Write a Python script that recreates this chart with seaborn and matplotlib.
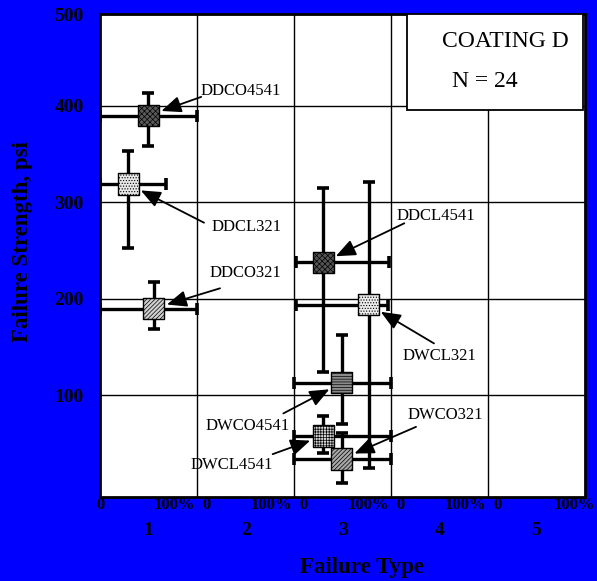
import matplotlib
matplotlib.use("Agg")
import matplotlib.pyplot as plt
import matplotlib.transforms as mtransforms
from matplotlib.patches import Rectangle
import seaborn as sns
import numpy as np

# ---------------- data ----------------
names = ["DDCO4541", "DDCL321", "DDCO321", "DDCL4541",
         "DWCL321", "DWCO4541", "DWCL4541", "DWCO321"]
fail_x = [0.495, 0.29, 0.55, 2.30, 2.77, 2.49, 2.30, 2.49]
strength = [390, 319, 190, 238, 194, 113, 58, 34]
x_lo = [0.0, 0.0, 0.0, 2.02, 2.02, 2.0, 2.0, 2.0]
x_hi = [1.0, 0.68, 1.0, 2.98, 2.97, 3.0, 3.0, 3.0]
y_lo = [358, 253, 169, 124.5, 25, 70, 40, 9]
y_hi = [413, 353, 218, 315, 321, 163, 79, 61]
type_labels = ["1", "2", "3", "4", "5"]
y_tick_labels = ["100", "200", "300", "400", "500"]
title_lines = ["COATING D", "N = 24"]

# ---------------- styles ----------------
fills = ["#5a5a5a", "#e8e8e8", "#d0d0d0", "#555555",
         "#ececec", "#8a8a8a", "#d8d8d8", "#a8a8a8"]
hatches = ["xxxxxx", "......", "////////", "xxxxxx",
           "......", "------", "++++++", "////////"]
# label centre / arrow tail (data coords)
label_pos = [(1.451, 415.6), (1.505, 274.5), (1.493, 227.3), (3.463, 285.9),
             (3.494, 140.8), (1.523, 68.2), (1.355, 27.7), (3.556, 80.1)]
arrow_tail = [(1.041, 409.4), (1.070, 279), (1.235, 211), (3.136, 278.4),
              (3.442, 153.9), (1.888, 81.3), (1.778, 39.1), (3.257, 67.4)]

sns.set_style("white")
plt.rcParams["font.family"] = ["Liberation Serif", "DejaVu Serif"]
plt.rcParams["hatch.linewidth"] = 0.5
plt.rcParams["text.color"] = "black"
plt.rcParams["xtick.color"] = "black"
plt.rcParams["ytick.color"] = "black"
plt.rcParams["axes.labelcolor"] = "black"

fig = plt.figure(figsize=(5.97, 5.81), dpi=100, facecolor="#0000ff")
W, H = 597, 581
ax = fig.add_axes([100.3 / W, (H - 496.7) / H, 484.7 / W, 482.4 / H])
ax.set_facecolor("white")

fx = np.array(fail_x)
fy = np.array(strength)
xerr = np.vstack([fx - np.array(x_lo), np.array(x_hi) - fx])
yerr = np.vstack([fy - np.array(y_lo), np.array(y_hi) - fy])
ax.errorbar(fx, fy, xerr=xerr, yerr=yerr, fmt="none", ecolor="black",
            elinewidth=2.4, capsize=4.3, capthick=2.6, zorder=3)

for i in range(len(names)):
    sns.scatterplot(x=[fail_x[i]], y=[strength[i]], marker="s", s=235,
                    color=fills[i], edgecolor="black", linewidth=1.0,
                    hatch=hatches[i], ax=ax, zorder=5 + i, legend=False)

for i, nm in enumerate(names):
    ax.text(label_pos[i][0], label_pos[i][1], nm, fontsize=12, color="black",
            ha="center", va="center", zorder=10)
    ax.annotate("", xy=(fail_x[i], strength[i]), xytext=arrow_tail[i],
                arrowprops=dict(arrowstyle="-|>,head_length=1.2,head_width=0.5",
                                color="black", lw=1.3, shrinkA=0, shrinkB=10,
                                mutation_scale=10),
                zorder=11)

ax.set_xlim(0, 5)
ax.set_ylim(-5, 495)
ax.set_xticks(np.arange(len(type_labels)) + 0.5)
ax.set_xticklabels(type_labels, fontsize=14, fontweight="bold", color="black")
ax.set_xticks([1, 2, 3, 4], minor=True)
ax.set_yticks([100, 200, 300, 400, 495])
ax.set_yticklabels(y_tick_labels, fontsize=14, fontweight="bold", color="black")
ax.tick_params(axis="x", which="both", length=0, pad=18, colors="black")
ax.tick_params(axis="y", which="both", length=0, pad=12, colors="black")
ax.grid(False)
ax.grid(True, which="minor", axis="x", color="black", lw=1.0)
ax.grid(True, which="major", axis="y", color="black", lw=1.0)
ax.set_axisbelow(True)
for sp in ax.spines.values():
    sp.set_color("black")
    sp.set_linewidth(2.0)
ax.set_xlabel("")
ax.set_ylabel("")

# percentage labels per failure type column
trans = mtransforms.blended_transform_factory(ax.transData, ax.transAxes)
ypct = -(505 - 496.7) / 482.4
for k in range(len(type_labels)):
    ax.text(k + (0.1 if k > 0 else 0.0), ypct, "0", transform=trans, color="black",
            fontsize=12, fontweight="bold", ha="center", va="center", clip_on=False)
    ax.text(k + 0.98 if k < 4 else 5.1, ypct, "100%", transform=trans, color="black",
            fontsize=12, fontweight="bold", ha="right", va="center", clip_on=False)

# title box
ax.add_patch(Rectangle((0.633, 0.8016), 0.363, 0.1984, transform=ax.transAxes,
                       facecolor="white", edgecolor="black", lw=1.3, zorder=12))
ax.text(0.835, 0.9426, title_lines[0], transform=ax.transAxes, fontsize=17,
        color="black", ha="center", va="center", zorder=13)
ax.text(0.7937, 0.8617, title_lines[1], transform=ax.transAxes, fontsize=17,
        color="black", ha="center", va="center", zorder=13)

fig.text(362 / W, 1 - 567 / H, "Failure Type", fontsize=16.5, fontweight="bold",
         color="black", ha="center", va="center")
fig.text(22.5 / W, 1 - 242 / H, "Failure Strength, psi", fontsize=16.5,
         fontweight="bold", color="black", rotation=90, ha="center", va="center")

fig.savefig("out.png", dpi=100, facecolor=fig.get_facecolor())
